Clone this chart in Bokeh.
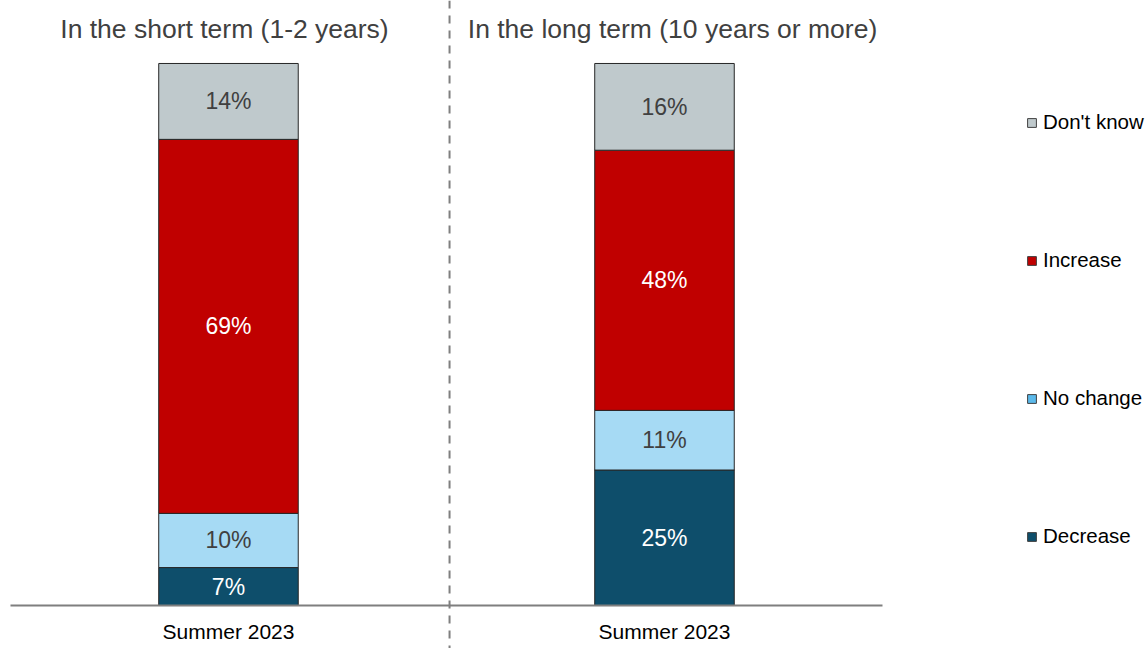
from bokeh.plotting import figure
from bokeh.models import ColumnDataSource, Range1d, Span, Legend, LegendItem
from bokeh.core.properties import value
from bokeh.embed import file_html
from bokeh.resources import INLINE

# ---- data ----
panels = ["In the short term (1-2 years)", "In the long term (10 years or more)"]
period = "Summer 2023"
series = ["Decrease", "No change", "Increase", "Don't know"]
decrease = [7, 25]
no_change = [10, 11]
increase = [69, 48]
dont_know = [14, 16]

colors = {"Decrease": "#0E4E6B", "No change": "#A6DAF4",
          "Increase": "#C00000", "Don't know": "#BFC9CC"}
legend_colors = {"Decrease": "#0E4E6B", "No change": "#5BB9EA",
                 "Increase": "#C00000", "Don't know": "#BFC9CC"}
label_colors = {"Decrease": "#FFFFFF", "No change": "#404040",
                "Increase": "#FFFFFF", "Don't know": "#404040"}

FONT = "Liberation Sans"
W, H = 1148, 648

xs = list(range(len(panels)))
src = ColumnDataSource(dict(x=xs, Decrease=decrease, **{"No change": no_change},
                            Increase=increase, **{"Don't know": dont_know}))

p = figure(width=W, height=H, output_backend="svg", toolbar_location=None,
           x_range=Range1d(-0.5229, 2.1101), y_range=Range1d(-7.93, 111.62),
           x_axis_location=None, y_axis_location=None, min_border=0)
p.xgrid.visible = False
p.ygrid.visible = False
p.outline_line_color = None

p.vbar_stack(series, x="x", width=0.32, source=src,
             color=[colors[s] for s in series],
             line_color="#262626", line_width=1)

# segment labels
lx, ly, lt, lc = [], [], [], []
vals = {"Decrease": decrease, "No change": no_change, "Increase": increase, "Don't know": dont_know}
for i in xs:
    cum = 0
    for s in series:
        v = vals[s][i]
        lx.append(i); ly.append(cum + v / 2); lt.append(f"{v}%"); lc.append(label_colors[s])
        cum += v
p.text(x=lx, y=ly, text=lt, text_color=lc, text_align="center", text_baseline="middle",
       text_font=value(FONT), text_font_size="23px")

# panel titles
p.text(x=xs, y=[106.4] * len(xs), text=panels, text_align="center", text_baseline="middle",
       x_offset=[-4, 8], text_color="#404040", text_font=value(FONT),
       text_font_size="26.5px")

# period labels
p.text(x=xs, y=[-4.8] * len(xs), text=[period] * len(xs), text_align="center",
       text_baseline="middle", text_color="#000000", text_font=value(FONT),
       text_font_size="21px")

# baseline
p.segment(x0=[-0.5], y0=[0], x1=[len(panels) - 0.5], y1=[0], line_color="#7F7F7F", line_width=2)

# separator
p.add_layout(Span(location=0.507, dimension="height", line_color="#7F7F7F",
                  line_width=2, line_dash="8 7"))

# legend (keys drawn with their own swatches; renderers hold no visible data)
nan = float("nan")
items = []
for s in series[::-1]:
    r = p.vbar(x=[nan], top=[nan], width=0.32, fill_color=legend_colors[s],
               line_color="#404040", line_width=1)
    items.append(LegendItem(label=s, renderers=[r]))
legend = Legend(items=items, location=(1026, 100), padding=0, margin=0,
                spacing=114, label_height=24, glyph_height=11, glyph_width=11,
                label_standoff=6, label_text_font=FONT, label_text_font_size="20.5px",
                label_text_color="#000000", border_line_color=None,
                background_fill_alpha=0)
p.add_layout(legend)

open("out.html", "w").write(file_html(p, INLINE))
